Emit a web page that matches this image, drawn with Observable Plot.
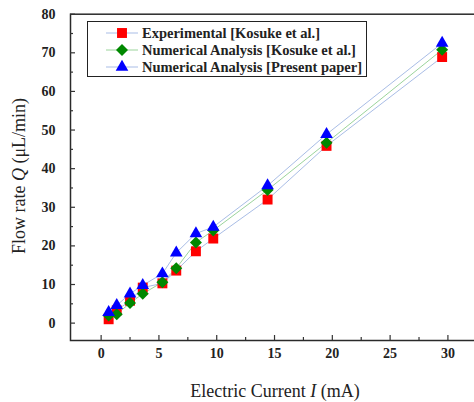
<!DOCTYPE html>
<html><head><meta charset="utf-8">
<script src="https://cdn.jsdelivr.net/npm/d3@7"></script>
<script src="https://cdn.jsdelivr.net/npm/@observablehq/plot@0.6"></script>
<style>
html,body{margin:0;padding:0;background:#fff;overflow:hidden;}
#wrap{position:relative;width:474px;height:402px;overflow:hidden;}
#chart{position:absolute;left:0;top:0;}
.ttl{position:absolute;font-family:"Liberation Serif","Times New Roman",serif;font-size:18px;color:#222;white-space:nowrap;line-height:1.15;}
#xt{left:275px;top:381px;transform:translateX(-50%);}
#yt{left:19px;top:176px;transform:translate(-50%,-50%) rotate(-90deg);}
#legend{position:absolute;left:87px;top:21px;width:280px;height:56px;border:1.5px solid #222;box-sizing:border-box;background:#fff;}
.row{position:absolute;left:0;height:16px;display:flex;align-items:center;}
.row svg{margin-left:18px;}
.row span{margin-left:4px;font-family:"Liberation Serif","Times New Roman",serif;font-weight:bold;font-size:14.5px;color:#222;line-height:1;}
</style></head><body>
<div id="wrap">
  <div id="chart"></div>
  <div id="legend"></div>
  <div id="xt" class="ttl">Electric Current <i>I</i> (mA)</div>
  <div id="yt" class="ttl">Flow rate <i>Q</i> (μL/min)</div>
</div>
<script>
// Data
const current = [0.65, 1.35, 2.5, 3.6, 5.3, 6.5, 8.2, 9.7, 14.4, 19.5, 29.5];
const experimental = [1.0, 3.3, 5.8, 9.2, 10.3, 13.6, 18.6, 21.9, 32.0, 45.9, 68.9];
const numericalKosuke = [2.0, 2.3, 5.2, 7.6, 10.6, 14.2, 20.9, 24.0, 34.5, 46.7, 70.8];
const numericalPresent = [2.8, 4.6, 7.6, 9.8, 12.8, 18.2, 23.2, 24.9, 35.6, 48.9, 72.5];
const seriesNames = ["Experimental [Kosuke et al.]", "Numerical Analysis [Kosuke et al.]", "Numerical Analysis [Present paper]"];
const markerColors = ["#ff0000", "#008800", "#0000ff"];
const lineColors = ["#a9bde6", "#9bd49b", "#a9bde6"];
const symbols = ["square", "diamond2", "triangle"];
const symbolR = [5.6, 5.4, 4.7];
const xTicks = [0, 5, 10, 15, 20, 25, 30];
const xMinor = [2.5, 7.5, 12.5, 17.5, 22.5, 27.5];
const yTicks = [0, 10, 20, 30, 40, 50, 60, 70, 80];
const yMinor = [5, 15, 25, 35, 45, 55, 65, 75];

const allSeries = [experimental, numericalKosuke, numericalPresent];
const data = allSeries.flatMap((vals, s) => vals.map((q, i) => ({I: current[i], Q: q, s})));

const font = {fontFamily: "Liberation Serif, Times New Roman, serif", fontWeight: "bold", fontSize: 14, fill: "#222"};

const marks = [
  Plot.frame({stroke: "#2a2a2a", strokeWidth: 1.5, insetRight: -20}),
  Plot.axisX(xTicks, {tickSize: -5, tickPadding: 13, stroke: "#333", strokeWidth: 1.2, ...font, label: null}),
  Plot.axisX(xMinor, {tickSize: -3, tickFormat: () => "", stroke: "#333", strokeWidth: 1.2, label: null}),
  Plot.axisY(yTicks, {tickSize: -5, tickPadding: 20, stroke: "#333", strokeWidth: 1.2, ...font, label: null}),
  Plot.axisY(yMinor, {tickSize: -3, tickFormat: () => "", stroke: "#333", strokeWidth: 1.2, label: null})
];
allSeries.forEach((vals, s) => {
  marks.push(Plot.line(data.filter(d => d.s === s), {x: "I", y: "Q", stroke: lineColors[s], strokeWidth: 1}));
});
allSeries.forEach((vals, s) => {
  marks.push(Plot.dot(data.filter(d => d.s === s), {x: "I", y: "Q", symbol: () => symbols[s], r: symbolR[s], fill: markerColors[s], stroke: "none"}));
});

const plot = Plot.plot({
  width: 474,
  height: 402,
  marginLeft: 70,
  marginRight: 0,
  marginTop: 13.7,
  marginBottom: 62,
  x: {domain: [-2.65, 32.3]},
  y: {domain: [-4.5, 80]},
  symbol: {type: "identity"},
  style: {background: "transparent", overflow: "hidden"},
  marks
});
document.getElementById("chart").appendChild(plot);

// Legend
const legend = document.getElementById("legend");
const rowTops = [3, 20, 37];
seriesNames.forEach((name, s) => {
  const row = document.createElement("div");
  row.className = "row";
  row.style.top = rowTops[s] + "px";
  const sym = d3.symbol(s === 0 ? d3.symbolSquare : s === 1 ? d3.symbolDiamond2 : d3.symbolTriangle, Math.PI * symbolR[s] * symbolR[s])();
  row.innerHTML = `<svg width="32" height="16"><line x1="0" x2="32" y1="8" y2="8" stroke="${lineColors[s]}" stroke-width="1"/><path transform="translate(16,8)" d="${sym}" fill="${markerColors[s]}"/></svg><span>${name}</span>`;
  legend.appendChild(row);
});
</script>
</body></html>
